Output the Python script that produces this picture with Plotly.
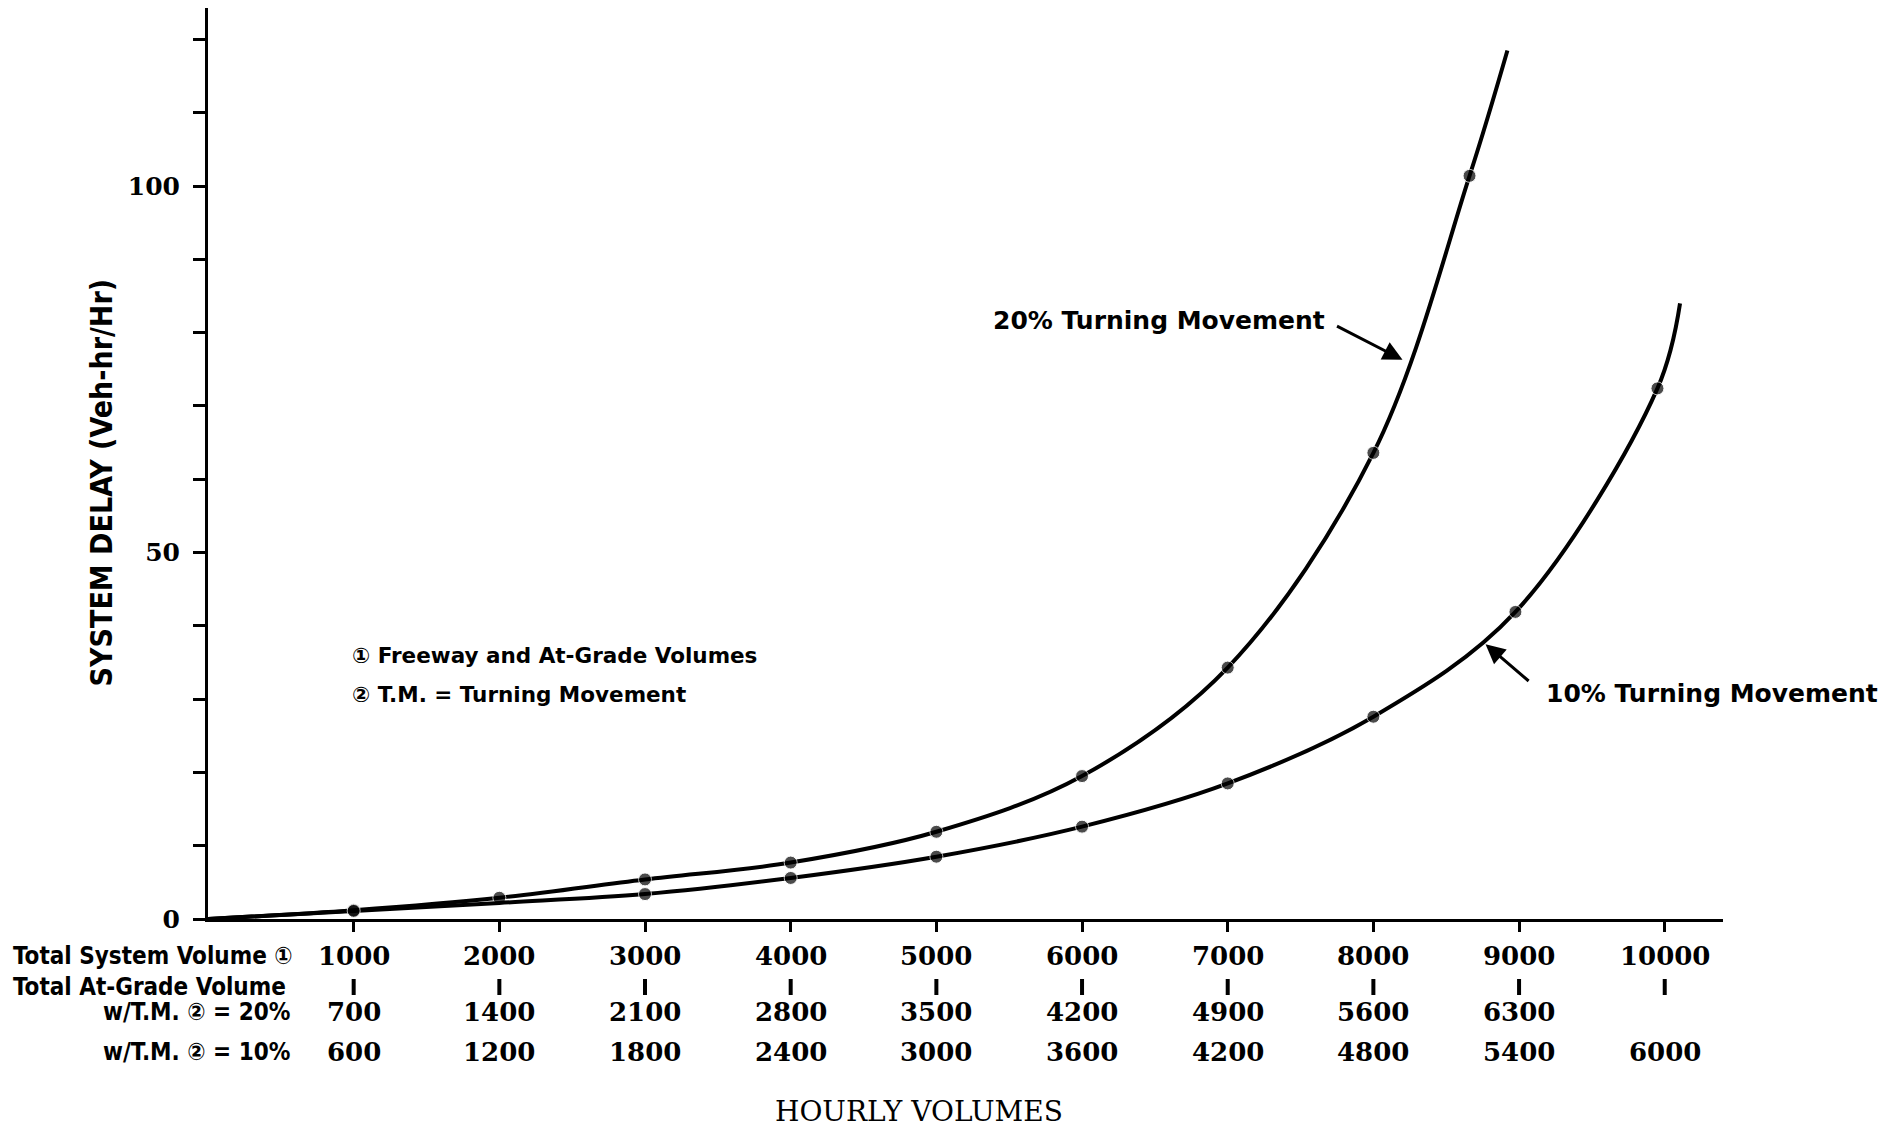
import plotly.graph_objects as go

# ---- data ----
x_20 = [0, 1000, 2000, 3000, 4000, 5000, 6000, 7000, 8000, 8660, 8920]
y_20 = [0, 1.2, 2.9, 5.4, 7.7, 11.9, 19.5, 34.3, 63.6, 101.4, 118.5]
m_20 = [0, 1, 1, 1, 1, 1, 1, 1, 1, 1, 0]   # which nodes carry a dot

x_10 = [0, 1000, 2000, 3000, 4000, 5000, 6000, 7000, 8000, 8975, 9950, 10105]
y_10 = [0, 1.1, 2.2, 3.4, 5.6, 8.5, 12.6, 18.5, 27.6, 41.9, 72.4, 84.0]
m_10 = [0, 1, 0, 1, 1, 1, 1, 1, 1, 1, 1, 0]

system_volume = [1000, 2000, 3000, 4000, 5000, 6000, 7000, 8000, 9000, 10000]
at_grade_20 = ["700", "1400", "2100", "2800", "3500", "4200", "4900", "5600", "6300", ""]
at_grade_10 = ["600", "1200", "1800", "2400", "3000", "3600", "4200", "4800", "5400", "6000"]

y_tick_vals = [0, 10, 20, 30, 40, 50, 60, 70, 80, 90, 100, 110, 120]
y_tick_text = ["0", "", "", "", "", "50", "", "", "", "", "100", "", ""]

row_labels = ["Total System Volume \u2460", "Total At-Grade Volume",
              "w/T.M. \u2461 = 20%", "w/T.M. \u2461 = 10%"]

BLACK = "#000000"
NUM_FONT = dict(family="DejaVu Serif", size=26, color=BLACK, weight="bold")
LAB_FONT = dict(family="DejaVu Sans Condensed, Liberation Sans Narrow, DejaVu Sans", size=24,
                color=BLACK, weight="bold")
NOTE_FONT = dict(family="DejaVu Sans", size=21.5, color=BLACK, weight="bold")
CURVE_FONT = dict(family="DejaVu Sans", size=25, color=BLACK, weight="bold")

fig = go.Figure()
for xs, ys, ms in [(x_20, y_20, m_20), (x_10, y_10, m_10)]:
    fig.add_trace(go.Scatter(
        x=xs, y=ys, mode="lines+markers",
        line=dict(color=BLACK, width=4, shape="spline", smoothing=1.0),
        marker=dict(color=BLACK, size=[13 * m for m in ms]),
        showlegend=False, cliponaxis=False, hoverinfo="skip"))

# short vertical bars of the "Total At-Grade Volume" row (below the axis)
shapes = []
for v in system_volume:
    shapes.append(dict(type="line", xref="x", yref="paper", x0=v, x1=v,
                       ysizemode="pixel", yanchor=0, y0=-60, y1=-76,
                       line=dict(color=BLACK, width=4)))

ann = []
# table rows under x axis
row_shift = [-37, -68, -93, -133]
for i, v in enumerate(system_volume):
    ann.append(dict(x=v, y=0, xref="x", yref="paper", text=str(v), showarrow=False,
                    yanchor="middle", yshift=row_shift[0], font=NUM_FONT))
    if at_grade_20[i]:
        ann.append(dict(x=v, y=0, xref="x", yref="paper", text=at_grade_20[i], showarrow=False,
                        yanchor="middle", yshift=row_shift[2], font=NUM_FONT))
    ann.append(dict(x=v, y=0, xref="x", yref="paper", text=at_grade_10[i], showarrow=False,
                    yanchor="middle", yshift=row_shift[3], font=NUM_FONT))

for j, lab in enumerate(row_labels):
    if j < 2:
        ann.append(dict(x=0, y=0, xref="paper", yref="paper", text=lab, showarrow=False,
                        xanchor="left", yanchor="middle", xshift=-197, yshift=row_shift[j],
                        font=LAB_FONT))
    else:
        ann.append(dict(x=0, y=0, xref="paper", yref="paper", text=lab, showarrow=False,
                        xanchor="right", yanchor="middle", xshift=84, yshift=row_shift[j],
                        font=LAB_FONT))

# axis titles
ann.append(dict(x=4880, y=0, xref="x", yref="paper", text="HOURLY VOLUMES", showarrow=False,
                yanchor="middle", yshift=-192,
                font=dict(family="DejaVu Serif", size=28, color=BLACK)))
ann.append(dict(x=0, y=59.5, xref="paper", yref="y", text="SYSTEM DELAY (Veh-hr/Hr)",
                showarrow=False, textangle=-90, xshift=-126,
                font=dict(family="DejaVu Sans Condensed, Liberation Sans Narrow, DejaVu Sans",
                          size=30, color=BLACK, weight="bold")))

# notes
ann.append(dict(x=977, y=36.0, xref="x", yref="y", text="\u2460 Freeway and At-Grade Volumes",
                showarrow=False, xanchor="left", font=NOTE_FONT))
ann.append(dict(x=977, y=30.7, xref="x", yref="y", text="\u2461 T.M. = Turning Movement",
                showarrow=False, xanchor="left", font=NOTE_FONT))

# curve labels with arrows
ann.append(dict(x=7682, y=81.7, xref="x", yref="y", text="20% Turning Movement",
                showarrow=False, xanchor="right", font=CURVE_FONT))
ann.append(dict(x=8200, y=76.3, xref="x", yref="y", ax=7740, ay=81.0, axref="x", ayref="y",
                text="", showarrow=True, arrowhead=2, arrowsize=1.3, arrowwidth=3,
                arrowcolor=BLACK))
ann.append(dict(x=9171, y=30.8, xref="x", yref="y", text="10% Turning Movement",
                showarrow=False, xanchor="left", font=CURVE_FONT))
ann.append(dict(x=8770, y=37.5, xref="x", yref="y", ax=9076, ay=32.3, axref="x", ayref="y",
                text="", showarrow=True, arrowhead=2, arrowsize=1.3, arrowwidth=3,
                arrowcolor=BLACK))

fig.update_layout(
    width=1892, height=1127,
    margin=dict(l=200, r=177, t=0, b=216),
    paper_bgcolor="white", plot_bgcolor="white",
    annotations=ann, shapes=shapes,
    xaxis=dict(range=[0, 10400], showgrid=False, zeroline=False, showline=True,
               linecolor=BLACK, linewidth=3, tickvals=system_volume, ticks="outside",
               ticklen=10, tickwidth=2.5, tickcolor=BLACK, showticklabels=False),
    yaxis=dict(range=[0, 124.3], showgrid=False, zeroline=False, showline=True,
               linecolor=BLACK, linewidth=3, tickvals=y_tick_vals, ticktext=y_tick_text,
               ticks="outside", ticklen=12, tickwidth=2.5, tickcolor=BLACK,
               ticklabelstandoff=8,
               tickfont=dict(family="DejaVu Serif", size=25, color=BLACK, weight="bold")),
)

fig.write_html("out.html")
